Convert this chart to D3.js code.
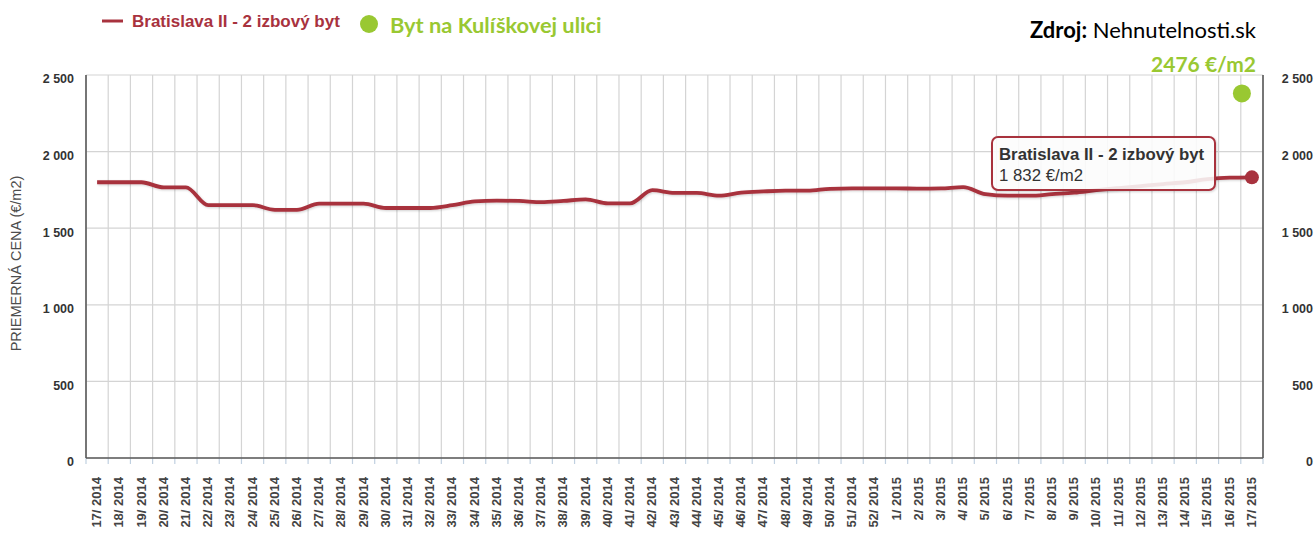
<!DOCTYPE html>
<html><head><meta charset="utf-8">
<script src="https://cdn.jsdelivr.net/npm/d3@7"></script>
<style>body{margin:0;background:#fff;overflow:hidden} svg{display:block}</style>
</head><body><svg id="c" width="1316" height="535"></svg>
<script>
const categories = [
 "17/ 2014","18/ 2014","19/ 2014","20/ 2014","21/ 2014","22/ 2014","23/ 2014","24/ 2014","25/ 2014",
 "26/ 2014","27/ 2014","28/ 2014","29/ 2014","30/ 2014","31/ 2014","32/ 2014","33/ 2014","34/ 2014",
 "35/ 2014","36/ 2014","37/ 2014","38/ 2014","39/ 2014","40/ 2014","41/ 2014","42/ 2014","43/ 2014",
 "44/ 2014","45/ 2014","46/ 2014","47/ 2014","48/ 2014","49/ 2014","50/ 2014","51/ 2014","52/ 2014",
 "1/ 2015","2/ 2015","3/ 2015","4/ 2015","5/ 2015","6/ 2015","7/ 2015","8/ 2015","9/ 2015",
 "10/ 2015","11/ 2015","12/ 2015","13/ 2015","14/ 2015","15/ 2015","16/ 2015","17/ 2015"];
const seriesName = "Bratislava II - 2 izbový byt";
const seriesValues = [
 1800,1800,1800,1766,1766,1650,1650,1650,1620,
 1620,1660,1660,1660,1632,1632,1632,1650,1675,
 1680,1678,1670,1678,1688,1662,1662,1748,1730,
 1730,1712,1732,1740,1745,1745,1757,1760,1760,
 1760,1758,1760,1768,1722,1712,1712,1722,1732,
 1748,1762,1775,1788,1800,1820,1830,1832];
const yTickValues = [0,500,1000,1500,2000,2500];
const yTickLabels = ["0","500","1 000","1 500","2 000","2 500"];
const yTitle = "PRIEMERNÁ CENA (€/m2)";
const flatName = "Byt na Kulíškovej ulici";
const flatCategory = "17/ 2015";
const flatMarkerValue = 2380;
const flatLabel = "2476 €/m2";
const tooltipValue = "1 832 €/m2";

const RED = "#a8323e", GREEN = "#99c832";
const L = 86, R = 1263, T = 75, B = 458;
const svg = d3.select("#c");
const defs = svg.append("defs");
const sh = defs.append("filter").attr("id","sh").attr("x","-10%").attr("y","-30%").attr("width","130%").attr("height","180%");
sh.append("feDropShadow").attr("dx",1).attr("dy",1).attr("stdDeviation",1.2).attr("flood-color","#000").attr("flood-opacity",0.18);

const x = d3.scaleBand().domain(categories).range([L, R]).padding(0);
const y = d3.scaleLinear().domain([0, 2500]).range([B, T]);
const cx = c => x(c) + x.bandwidth()/2;

const g = svg.append("g");
const bounds = categories.map(c => x(c)).concat([R]);
g.selectAll("line.vg").data(bounds).join("line")
 .attr("x1", d=>d).attr("x2", d=>d).attr("y1", T).attr("y2", B)
 .attr("stroke", "#d4d4d4").attr("stroke-width", 1.2);
g.selectAll("line.hg").data(yTickValues).join("line")
 .attr("x1", L).attr("x2", R).attr("y1", d=>y(d)).attr("y2", d=>y(d))
 .attr("stroke", "#d4d4d4").attr("stroke-width", 1.2);
g.selectAll("line.tk").data(bounds).join("line")
 .attr("x1", d=>d).attr("x2", d=>d).attr("y1", B).attr("y2", B+6)
 .attr("stroke", "#c0d0e0").attr("stroke-width", 1.2);
g.append("line").attr("x1",L).attr("x2",L).attr("y1",T).attr("y2",B).attr("stroke","#5a5a5a").attr("stroke-width",1.6);
g.append("line").attr("x1",R).attr("x2",R).attr("y1",T).attr("y2",B).attr("stroke","#5a5a5a").attr("stroke-width",1.6);
g.append("line").attr("x1",L).attr("x2",R).attr("y1",B).attr("y2",B).attr("stroke","#5a5a5a").attr("stroke-width",1.6);

const axFont = "'Liberation Sans', Arial, sans-serif";
[[74],[1313]].forEach(([xx]) => {
  g.selectAll(null).data(yTickValues).join("text")
   .attr("x", xx).attr("y", d=>y(d)+4).attr("dy","0.35em")
   .attr("text-anchor","end").attr("font-family",axFont).attr("font-weight","bold")
   .attr("font-size","12.5px").attr("fill","#333")
   .text((d,i)=>yTickLabels[i]);
});
g.append("text").attr("transform",`translate(21,${(T+B)/2-3}) rotate(-90)`)
 .attr("text-anchor","middle").attr("font-family",axFont).attr("font-size","14.5px").attr("fill","#4d4d4d")
 .text(yTitle);
g.selectAll("text.xl").data(categories).join("text")
 .attr("transform", c => `translate(${cx(c)+4},${B+19}) rotate(-90)`)
 .attr("text-anchor","end").attr("font-family",axFont).attr("font-weight","bold")
 .attr("font-size","13px").attr("fill","#444")
 .text(c=>c);

const line = d3.line().x((d,i)=>cx(categories[i])).y(d=>y(d)).curve(d3.curveMonotoneX);
g.append("path").datum(seriesValues).attr("d", line).attr("fill","none")
 .attr("stroke", RED).attr("stroke-width", 3.8).attr("stroke-linejoin","round").attr("filter","url(#sh)");
const lastI = seriesValues.length-1;
g.append("circle").attr("cx", cx(categories[lastI])).attr("cy", y(seriesValues[lastI])).attr("r", 7).attr("fill", RED);

const tt = g.append("g").attr("transform","translate(992,137)");
tt.append("rect").attr("width",223).attr("height",53).attr("rx",6)
 .attr("fill","#fff").attr("fill-opacity",0.85).attr("stroke",RED).attr("stroke-width",2).attr("filter","url(#sh)");
tt.append("text").attr("x",7).attr("y",23).attr("font-family",axFont).attr("font-weight","bold")
 .attr("font-size","16.8px").attr("fill","#333").text(seriesName);
tt.append("text").attr("x",7).attr("y",44).attr("font-family",axFont)
 .attr("font-size","16.8px").attr("fill","#333").text(tooltipValue);

g.append("circle").attr("cx", cx(flatCategory)-10).attr("cy", y(flatMarkerValue)).attr("r", 9).attr("fill", GREEN);

const lg = svg.append("g");
lg.append("line").attr("x1",102).attr("x2",123).attr("y1",21).attr("y2",21).attr("stroke",RED).attr("stroke-width",3);
lg.append("text").attr("x",132).attr("y",27).attr("font-family",axFont).attr("font-weight","bold")
 .attr("font-size","17px").attr("fill",RED).text(seriesName);
lg.append("circle").attr("cx",369).attr("cy",24).attr("r",9).attr("fill",GREEN);
const calFont = "Lato, 'Open Sans', sans-serif";
lg.append("text").attr("x",390).attr("y",33).attr("font-family",calFont).attr("font-weight","bold")
 .attr("font-size","21.8px").attr("fill",GREEN).text(flatName);

const src = svg.append("text").attr("x",1256).attr("y",38).attr("text-anchor","end")
 .attr("font-family",calFont).attr("font-size","22px").attr("fill","#000");
src.append("tspan").attr("font-weight","bold").text("Zdroj:");
src.append("tspan").text(" Nehnutelnosti.sk");
svg.append("text").attr("x",1256).attr("y",72).attr("text-anchor","end")
 .attr("font-family",calFont).attr("font-weight","bold").attr("font-size","21px").attr("fill",GREEN).text(flatLabel);
</script></body></html>
